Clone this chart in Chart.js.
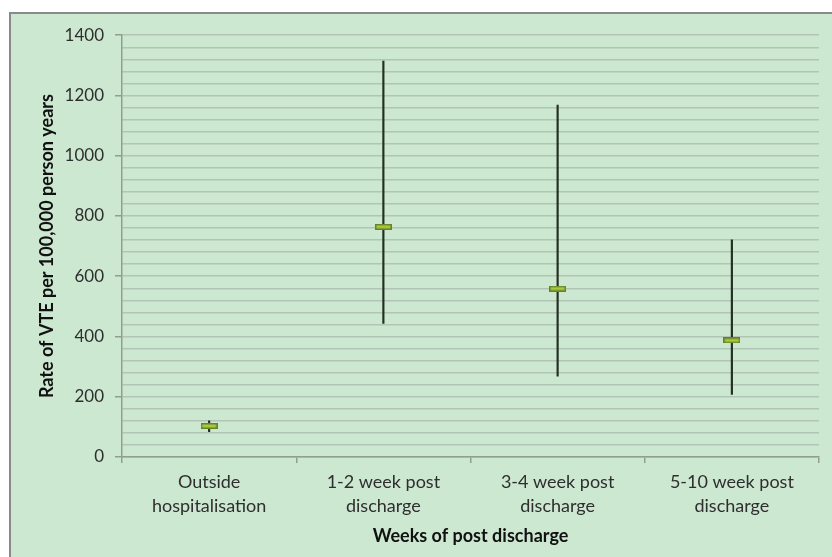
<!DOCTYPE html>
<html>
<head>
<meta charset="utf-8">
<script src="https://cdn.jsdelivr.net/npm/chart.js@4/dist/chart.umd.min.js"></script>
<style>
  html, body { margin: 0; padding: 0; background: #ffffff; width: 832px; height: 557px; overflow: hidden; }
  #box { position: absolute; left: 9px; top: 12px; width: 823px; height: 545px;
         border-left: 2px solid #8a8a8a; border-top: 2px solid #8a8a8a; background: #cde8d1; }
  #wrap { position: absolute; left: 0; top: 0; width: 821px; height: 543px; }
</style>
</head>
<body>
<div id="box"><div id="wrap"><canvas id="c"></canvas></div></div>
<script>
const categories = [
  ["Outside", "hospitalisation"],
  ["1-2 week post", "discharge"],
  ["3-4 week post", "discharge"],
  ["5-10 week post", "discharge"]
];
const rateMean  = [103, 764, 559, 387];
const rateLower = [84, 443, 268, 208];
const rateUpper = [120, 1314, 1168, 721];
const yMin = 0, yMax = 1400, yGridStep = 40, yLabelStep = 200;
const yTitle = "Rate of VTE per 100,000 person years";
const xTitle = "Weeks of post discharge";

// marker image for the mean
const mk = document.createElement('canvas');
mk.width = 17; mk.height = 6;
const mctx = mk.getContext('2d');
mctx.fillStyle = '#66822a';
mctx.fillRect(0, 0, 17, 6);
mctx.fillStyle = '#a8c63e';
mctx.fillRect(1.5, 1.5, 14, 3);

const FONT = "Lato, 'Noto Sans', sans-serif";

new Chart(document.getElementById('c'), {
  data: {
    labels: categories,
    datasets: [
      {
        type: 'line',
        data: rateMean,
        showLine: false,
        pointStyle: mk,
        pointRadius: 8,
        order: 0
      },
      {
        type: 'bar',
        data: rateLower.map((lo, i) => [lo, rateUpper[i]]),
        backgroundColor: '#223022',
        borderWidth: 0,
        barThickness: 1.5,
        order: 1
      }
    ]
  },
  options: {
    responsive: true,
    maintainAspectRatio: false,
    animation: false,
    layout: { padding: { left: 0, right: 13, top: 20, bottom: 0 } },
    plugins: { legend: { display: false }, tooltip: { enabled: false } },
    scales: {
      x: {
        offset: true,
        grid: {
          offset: true,
          drawOnChartArea: false,
          drawTicks: true,
          tickLength: 6,
          color: '#8f9e90',
          lineWidth: 1.5
        },
        border: { color: '#8f9e90', width: 1.5 },
        ticks: {
          color: '#2e2e2e',
          font: { family: FONT, size: 18, lineHeight: 1.333 },
          padding: 7,
          maxRotation: 0,
          autoSkip: false
        },
        title: {
          display: true,
          text: xTitle,
          color: '#111111',
          font: { family: FONT, size: 18, weight: 'bold' },
          padding: { top: 0, bottom: 10 }
        },
        afterFit: (s) => { s.height = 100; }
      },
      y: {
        min: yMin,
        max: yMax,
        grid: {
          color: '#b2c4b5',
          lineWidth: 1.5,
          drawTicks: true,
          tickLength: 7,
          tickColor: (ctx) => (ctx.tick && ctx.tick.value % yLabelStep === 0) ? '#8f9e90' : 'rgba(0,0,0,0)'
        },
        border: { color: '#8f9e90', width: 1.5 },
        ticks: {
          stepSize: yGridStep,
          autoSkip: false,
          color: '#2e2e2e',
          font: { family: FONT, size: 17 },
          padding: 11,
          callback: (v) => (v % yLabelStep === 0) ? String(v) : ''
        },
        title: {
          display: true,
          text: yTitle,
          color: '#111111',
          font: { family: FONT, size: 18, weight: 'bold' },
          padding: { top: 25, bottom: 0 }
        },
        afterFit: (s) => { s.width = 111; }
      }
    }
  }
});
</script>
</body>
</html>
